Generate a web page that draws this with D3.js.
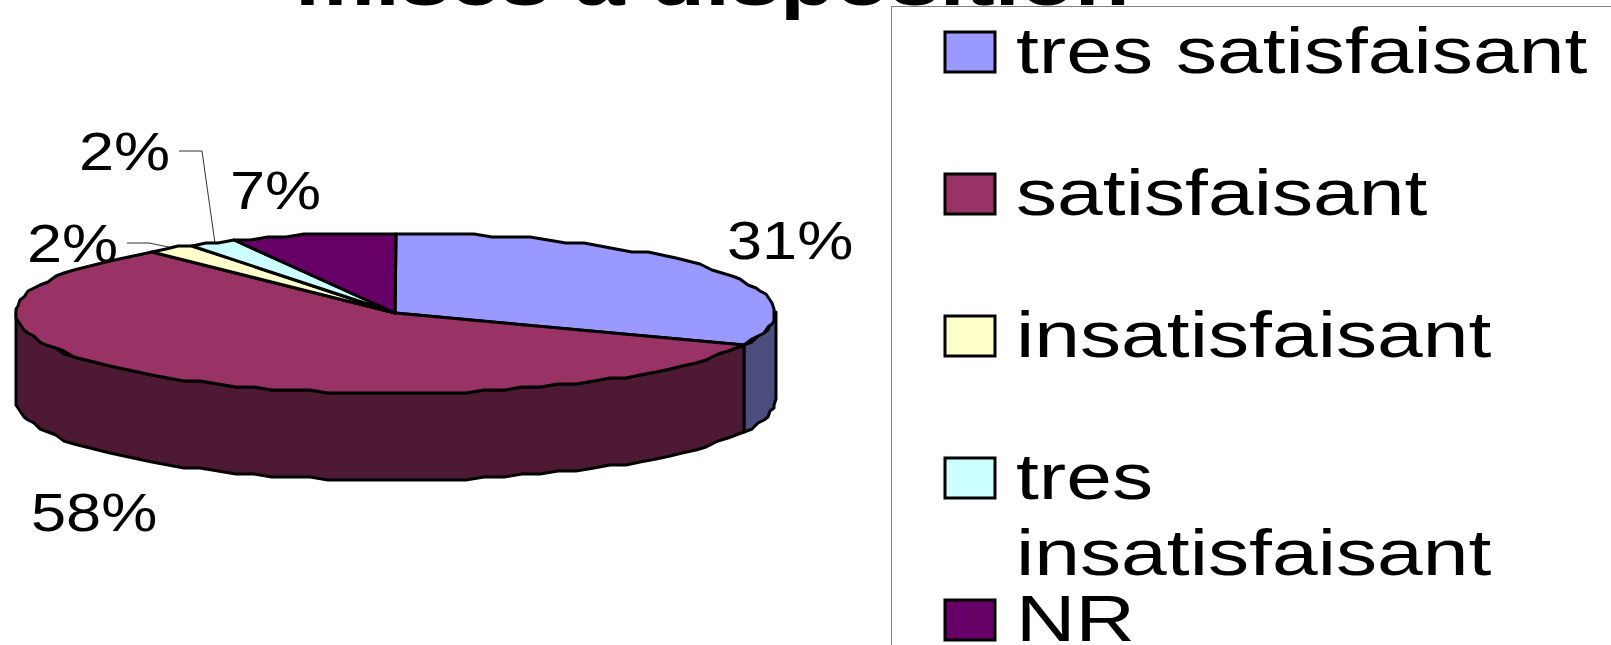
<!DOCTYPE html>
<html>
<head>
<meta charset="utf-8">
<script src="https://cdn.jsdelivr.net/npm/d3@7"></script>
<style>
    html, body { margin: 0; padding: 0; background: #fff; overflow: hidden; }
    text { font-family: "Liberation Sans", Arial, sans-serif; fill: #000; }
</style>
</head>
<body>
<div id="chart"></div>
<script>
// 데이터
const title = "mises à disposition";
const categories = ["tres satisfaisant", "satisfaisant", "insatisfaisant", "tres insatisfaisant", "NR"];
const values = [31.4, 57.6, 2, 2, 7];
const colors = ["#9999ff", "#993366", "#ffffcc", "#ccffff", "#660066"];
const sideColors = ["#4d4d80", "#4d1933", "#80801a", "#668080", "#330033"];

const width = 1611, height = 645;
const depth = 87;

const svg = d3.select("#chart").append("svg")
    .attr("width", width)
    .attr("height", height)
    .style("display", "block")
    .style("filter", "blur(0.45px)");

const xPie = d3.scaleLinear().domain([-1, 1]).range([15, 775]);
const yPie = d3.scaleLinear().domain([-1, 1]).range([233, 393]);

// 타원 위의 점, 원본처럼 약간 계단지게 반올림
const rim = (a, dy = 0) => [
    Math.round(xPie(Math.sin(a)) / 2) * 2,
    Math.round((yPie(-Math.cos(a)) + dy) / 3) * 3
];

function arcPoints(a0, a1, dy = 0) {
    const n = Math.max(1, Math.ceil((a1 - a0) / (Math.PI / 60)));
    return d3.range(n + 1).map(i => rim(a0 + (a1 - a0) * i / n, dy));
}

const line = d3.line();
const center = [xPie(0), yPie(0)];

const slices = d3.pie().sort(null).startAngle(0).endAngle(2 * Math.PI)(values);

// 원본 그림은 가로로 늘어나 있어서 글자도 같이 늘림
function stretchedText(parent, str, x, y, size, sx, weight) {
    return parent.append("text")
        .attr("transform", `translate(${x},${y}) scale(${sx},1)`)
        .style("font-size", size + "px")
        .style("font-weight", weight || "normal")
        .text(str);
}

// 제목
stretchedText(svg, title, 295, 5, 70, 1.285, "bold");

// 라벨 (파이 아래쪽)
const labelPos = [
    { x: 727, y: 259 },
    { x: 31, y: 531 },
    { x: 27, y: 262, elbow: [[127, 243], [149, 243]] },
    { x: 79, y: 170, elbow: [[179, 151], [202, 151]] },
    { x: 230, y: 209 }
];

const labels = svg.append("g");
slices.forEach((d, i) => {
    const p = labelPos[i];
    stretchedText(labels, Math.round(d.data) + "%", p.x, p.y, 53, 1.19);
    if (p.elbow) {
        const mid = (d.startAngle + d.endAngle) / 2;
        labels.append("path")
            .attr("d", line([...p.elbow, [xPie(Math.sin(mid)) + 3, yPie(-Math.cos(mid))]]))
            .attr("fill", "none")
            .attr("stroke", "#333")
            .attr("stroke-width", 1);
    }
});

// 옆면
const pie = svg.append("g")
    .attr("stroke", "#000")
    .attr("stroke-width", 3)
    .attr("stroke-linejoin", "round");

slices.forEach((d, i) => {
    const a0 = Math.max(d.startAngle, Math.PI / 2);
    const a1 = Math.min(d.endAngle, Math.PI * 1.5);
    if (a1 <= a0) return;
    const pts = [...arcPoints(a0, a1), ...arcPoints(a0, a1, depth).reverse()];
    pie.append("path")
        .attr("d", line(pts) + "Z")
        .attr("fill", sideColors[i]);
});

// 윗면
slices.forEach((d, i) => {
    const pts = [center, ...arcPoints(d.startAngle, d.endAngle)];
    pie.append("path")
        .attr("d", line(pts) + "Z")
        .attr("fill", colors[i]);
});

// 범례
const legendX = 891, legendTop = 6;
svg.append("rect")
    .attr("x", legendX + 0.5)
    .attr("y", legendTop + 0.5)
    .attr("width", width)
    .attr("height", height)
    .attr("fill", "#fff")
    .attr("stroke", "#808080")
    .attr("stroke-width", 1);

const legendRow = d3.scaleLinear().domain([0, 4]).range([32, 600]);
const legendLines = categories.map(c => c === "tres insatisfaisant" ? ["tres", "insatisfaisant"] : [c]);

categories.forEach((c, i) => {
    const top = legendRow(i);
    svg.append("rect")
        .attr("x", 945)
        .attr("y", top)
        .attr("width", 50)
        .attr("height", 40)
        .attr("fill", colors[i])
        .attr("stroke", "#000")
        .attr("stroke-width", 3);
    legendLines[i].forEach((str, j) => {
        stretchedText(svg, str, 1016, top + 41 + j * 76, 64, 1.285);
    });
});
</script>
</body>
</html>
